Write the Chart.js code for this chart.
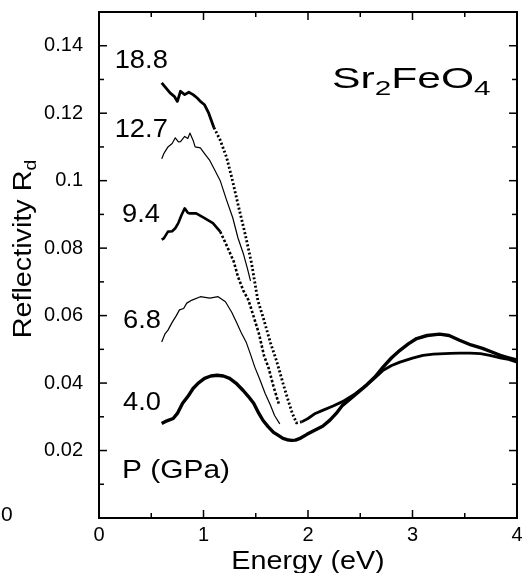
<!DOCTYPE html>
<html>
<head>
<meta charset="utf-8">
<script src="https://cdn.jsdelivr.net/npm/chart.js@4/dist/chart.umd.min.js"></script>
<style>
  html, body { margin: 0; padding: 0; background: #fff; overflow: hidden; }
  canvas { display: block; }
</style>
</head>
<body>
<canvas id="myChart" width="523" height="573"></canvas>
<script>
// values (energy in eV, reflectivity R_d)
const energy188 = [0.60,0.64,0.68,0.72,0.75,0.78,0.82,0.86,0.90,0.94,0.97,1.01,1.05,1.10,1.16,1.22,1.27,1.33,1.40,1.46,1.52,1.58,1.64,1.70,1.76,1.81,1.85,1.89,1.94,2.00,2.07,2.14,2.24,2.33,2.45,2.56,2.64,2.72,2.80,2.88,3.00,3.10,3.20,3.36,3.45,3.55,3.65,3.74,3.85,3.92,4.00];
const refl188 = [0.129,0.1275,0.126,0.125,0.1235,0.1265,0.1255,0.1262,0.1255,0.1245,0.1235,0.1225,0.120,0.1157,0.112,0.107,0.101,0.093,0.084,0.0755,0.0645,0.0585,0.052,0.0465,0.040,0.0349,0.031,0.0282,0.0285,0.0295,0.031,0.0319,0.0332,0.0345,0.0368,0.0394,0.0415,0.0438,0.0452,0.0462,0.0474,0.0482,0.0486,0.0488,0.0489,0.0489,0.0487,0.0482,0.0474,0.047,0.0462];

const energy127 = [0.60,0.62,0.66,0.70,0.73,0.76,0.78,0.82,0.85,0.87,0.90,0.92,0.97,1.01,1.06,1.11,1.16,1.22,1.28,1.33,1.38,1.42,1.45];
const refl127 = [0.1065,0.108,0.110,0.111,0.1127,0.1115,0.1116,0.1131,0.1125,0.1141,0.112,0.110,0.1097,0.108,0.106,0.103,0.100,0.0943,0.089,0.083,0.0785,0.074,0.0703];

const energy94 = [0.60,0.62,0.66,0.70,0.73,0.76,0.79,0.82,0.85,0.87,0.93,1.01,1.09,1.16,1.22,1.29,1.33,1.38,1.43,1.48,1.53,1.58,1.62,1.67,1.72];
const refl94 = [0.0825,0.0829,0.0849,0.085,0.0859,0.0875,0.0898,0.0918,0.0905,0.0903,0.0903,0.0889,0.0874,0.0849,0.0809,0.076,0.0715,0.0675,0.0646,0.0597,0.0547,0.048,0.0448,0.039,0.0339];

const energy68 = [0.60,0.63,0.66,0.70,0.74,0.77,0.81,0.84,0.89,0.97,1.06,1.14,1.21,1.27,1.32,1.36,1.41,1.45,1.49,1.54,1.59,1.64,1.68,1.73];
const refl68 = [0.0522,0.0545,0.0557,0.058,0.060,0.0617,0.0621,0.0637,0.0646,0.0656,0.0652,0.0656,0.0641,0.061,0.0577,0.055,0.052,0.0485,0.0448,0.041,0.0369,0.0335,0.0304,0.0279];

const energy40 = [0.60,0.65,0.71,0.75,0.80,0.85,0.90,0.95,1.01,1.07,1.13,1.19,1.25,1.31,1.38,1.43,1.48,1.53,1.57,1.62,1.67,1.72,1.76,1.80,1.84,1.88,1.93,1.99,2.05,2.14,2.21,2.27,2.33,2.45,2.56,2.64,2.72,2.80,2.88,2.96,3.04,3.14,3.26,3.35,3.45,3.56,3.67,3.76,3.84,3.92,4.00];
const refl40 = [0.028,0.0288,0.0295,0.031,0.034,0.036,0.0384,0.040,0.0414,0.0421,0.0423,0.0421,0.0414,0.040,0.0378,0.036,0.034,0.031,0.0289,0.027,0.0254,0.0244,0.0236,0.0232,0.023,0.0231,0.0237,0.0248,0.0258,0.0272,0.029,0.031,0.0334,0.0365,0.0394,0.0418,0.0448,0.0475,0.0497,0.0516,0.0532,0.0541,0.0545,0.0541,0.0527,0.0513,0.0503,0.0492,0.0482,0.0475,0.0468];

// pressure labels (GPa) and where they sit, in data units (left edge, baseline)
const pressureLabels = ['18.8','12.7','9.4','6.8','4.0'];
const labelX = [0.15,0.15,0.22,0.23,0.23];
const labelY = [0.1335,0.113,0.0878,0.0563,0.0319];

const xTicks = [0,1,2,3,4];
const yTicks = [0,0.02,0.04,0.06,0.08,0.1,0.12,0.14];

function pts(e, r){
    return e.map((v, i) => ({x: v, y: r[i]}));
}

const FONT = '"Liberation Sans", Arial, sans-serif';

function drawText(ctx, txt, x, y, size, sx){
    ctx.save();
    ctx.translate(x, y);
    ctx.scale(sx, 1);
    ctx.font = size + 'px ' + FONT;
    ctx.textAlign = 'left';
    ctx.textBaseline = 'alphabetic';
    ctx.fillText(txt, 0, 0);
    ctx.restore();
}

// frame, inward ticks and all the lettering
const decor = {
    id: 'decor',
    afterDraw(chart){
        const ctx = chart.ctx;
        const xs = chart.scales.x, ys = chart.scales.y;
        const L = xs.getPixelForValue(xs.min), R = xs.getPixelForValue(xs.max);
        const T = ys.getPixelForValue(ys.max), B = ys.getPixelForValue(ys.min);
        ctx.save();
        ctx.setTransform(1, 0, 0, 1, 0, 0);
        ctx.fillStyle = '#000';
        const w = 2, h = w / 2;
        // frame as filled bars
        ctx.fillRect(L - h, T - h, R - L + w, w);
        ctx.fillRect(L - h, B - h, R - L + w, w);
        ctx.fillRect(L - h, T - h, w, B - T + w);
        ctx.fillRect(R - h, T - h, w, B - T + w);

        // inward ticks on all four sides
        const tw = 1.5;
        xTicks.forEach(v => {
            [[v, 8], [v + 0.5, 5]].forEach(([t, len]) => {
                if (t > xs.max) return;
                const p = xs.getPixelForValue(t);
                ctx.fillRect(p - tw / 2, B - len, tw, len);
                ctx.fillRect(p - tw / 2, T, tw, len);
            });
        });
        yTicks.forEach(v => {
            [[v, 8], [v + 0.01, 5]].forEach(([t, len]) => {
                if (t > ys.max + 1e-9) return;
                const p = ys.getPixelForValue(t);
                ctx.fillRect(L, p - tw / 2, len, tw);
                ctx.fillRect(R - len, p - tw / 2, len, tw);
            });
        });

        // pressure labels
        pressureLabels.forEach((t, i) => {
            drawText(ctx, t, xs.getPixelForValue(labelX[i]), ys.getPixelForValue(labelY[i]), 26, 1.05);
        });
        drawText(ctx, 'P (GPa)', xs.getPixelForValue(0.22), ys.getPixelForValue(0.012), 26, 1.15);

        // compound name with subscripts
        let px = xs.getPixelForValue(2.23);
        const py = ys.getPixelForValue(0.1276);
        const sx = 1.42;
        [['Sr', 30, 0], ['2', 21, 7], ['FeO', 30, 0], ['4', 21, 7]].forEach(([t, s, dy]) => {
            drawText(ctx, t, px, py + dy, s, sx);
            ctx.font = s + 'px ' + FONT;
            px += ctx.measureText(t).width * sx;
        });

        // x title
        ctx.font = '25px ' + FONT;
        const wx = ctx.measureText('Energy (eV)').width * 1.15;
        drawText(ctx, 'Energy (eV)', (L + R) / 2 - wx / 2, 569, 25, 1.15);

        // y title, rotated
        ctx.save();
        ctx.translate(31, 249);
        ctx.rotate(-Math.PI / 2);
        ctx.font = '25px ' + FONT;
        const w1 = ctx.measureText('Reflectivity R').width * 1.15;
        ctx.font = '17px ' + FONT;
        const w2 = ctx.measureText('d').width * 1.15;
        drawText(ctx, 'Reflectivity R', -(w1 + w2) / 2, 0, 25, 1.15);
        drawText(ctx, 'd', -(w1 + w2) / 2 + w1, 5, 17, 1.15);
        ctx.restore();

        // the stray y-axis zero of the original
        drawText(ctx, '0', 1, 521, 20, 1.05);
        ctx.restore();
    }
};

const dotted = (from, to, dash) => ({
    borderDash: c => (c.p0.parsed.x >= from && c.p0.parsed.x < to) ? dash : undefined
});

const noPad = s => {
    s.paddingTop = 0; s.paddingBottom = 0; s.paddingLeft = 0; s.paddingRight = 0;
};

const ctx = document.getElementById('myChart').getContext('2d');
const myChart = new Chart(ctx, {
    type: 'line',
    data: {
        datasets: [
            { label: '18.8', data: pts(energy188, refl188), borderColor: '#000', borderWidth: 2.8, segment: dotted(1.1, 1.9, [2, 2.2]) },
            { label: '12.7', data: pts(energy127, refl127), borderColor: '#000', borderWidth: 1.2 },
            { label: '9.4', data: pts(energy94, refl94), borderColor: '#000', borderWidth: 2.6, segment: dotted(1.15, 2, [2.5, 2]) },
            { label: '6.8', data: pts(energy68, refl68), borderColor: '#000', borderWidth: 1.2 },
            { label: '4.0', data: pts(energy40, refl40), borderColor: '#000', borderWidth: 3.4 }
        ]
    },
    options: {
        responsive: false,
        devicePixelRatio: 1,
        animation: false,
        layout: { padding: { left: 0, top: 12, right: 6, bottom: 0 } },
        elements: {
            point: { radius: 0, hoverRadius: 0 },
            line: { tension: 0, borderCapStyle: 'butt', borderJoinStyle: 'round' }
        },
        plugins: {
            legend: { display: false },
            tooltip: { enabled: false }
        },
        scales: {
            x: {
                type: 'linear',
                min: 0, max: 4,
                ticks: {
                    stepSize: 1,
                    padding: 5,
                    color: '#000',
                    font: { family: '"Liberation Sans", Arial, sans-serif', size: 20 },
                    callback: v => String(v)
                },
                grid: { display: false, drawTicks: false },
                border: { display: false },
                afterFit: s => { s.height = 55; noPad(s); }
            },
            y: {
                type: 'linear',
                min: 0, max: 0.15,
                ticks: {
                    stepSize: 0.02,
                    padding: 16,
                    color: '#000',
                    font: { family: '"Liberation Sans", Arial, sans-serif', size: 20 },
                    callback: v => v === 0 ? '' : String(Number(v.toFixed(2)))
                },
                afterBuildTicks: s => {
                    s.ticks = s.ticks.filter(t => yTicks.some(y => Math.abs(y - t.value) < 1e-6));
                },
                grid: { display: false, drawTicks: false },
                border: { display: false },
                afterFit: s => { s.width = 99; noPad(s); }
            }
        }
    },
    plugins: [decor]
});
</script>
</body>
</html>
